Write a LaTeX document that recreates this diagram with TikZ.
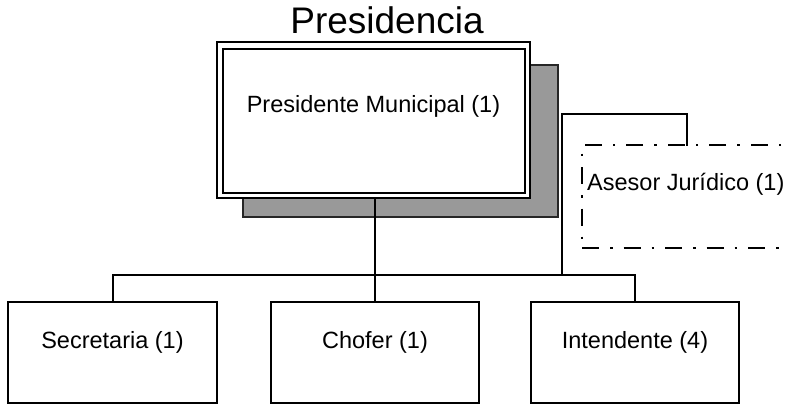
\documentclass[tikz,border=0pt]{standalone}
\usepackage{fontspec}
\setmainfont{Liberation Sans}
\begin{document}
\begin{tikzpicture}[x=1pt,y=-1pt,
  box/.style={draw=black,line width=2pt,fill=white,inner sep=0pt,outer sep=0pt,rectangle},
  conn/.style={draw=black,line width=2pt,line cap=rect},
  lbl/.style={inner sep=0pt,anchor=base,font=\fontsize{23.5}{28}\selectfont},
  dashdot/.style={dash pattern=on 17pt off 11pt on 2.5pt off 11pt}]
\useasboundingbox (0,0) rectangle (789,404);
\clip (0,0) rectangle (789,404);
% shadow of the top box
\fill[black!40] (243,65) rectangle (558,217);
\draw[black!85,line width=1.5pt] (243,65) rectangle (558,217);
% boxes
\node[box,minimum width=313pt,minimum height=156pt] (pres) at (373.5,120) {};
\draw[line width=2pt] ([shift={(6,7)}]pres.north west) rectangle ([shift={(-5,-5)}]pres.south east);
\node[box,dashdot,minimum width=228pt,minimum height=103pt] (ase) at (696,196.5) {};
\node[box,minimum width=209pt,minimum height=101pt] (sec) at (112.5,352.5) {};
\node[box,minimum width=208pt,minimum height=101pt] (chof) at (375,352.5) {};
\node[box,minimum width=208pt,minimum height=101pt] (int) at (635,352.5) {};
% texts
\node[inner sep=0pt,anchor=base,font=\fontsize{37}{44}\selectfont] (title) at (387,34) {Presidencia};
\node[lbl] (presT) at (373.5,112.5) {Presidente Municipal (1)};
\node[lbl,anchor=base west] (aseT) at (587,190.5) {Asesor Jurídico (1)};
\node[lbl] (secT) at (112.5,348.5) {Secretaria (1)};
\node[lbl] (chofT) at (375,348.5) {Chofer (1)};
\node[lbl] (intT) at (635,348.5) {Intendente (4)};
% connectors
\coordinate (bus) at (375,275);
\coordinate (aj) at (562,275);
\coordinate (ak) at (562,114);
\coordinate (asetop) at (687,145);
\draw[conn] (chof.north |- pres.south) -- (chof.north);
\draw[conn] (sec.north) -- (sec.north |- bus) -- (int.north |- bus) -- (int.north);
\draw[conn] (aj) -- (ak) -| (asetop);
\end{tikzpicture}
\end{document}
